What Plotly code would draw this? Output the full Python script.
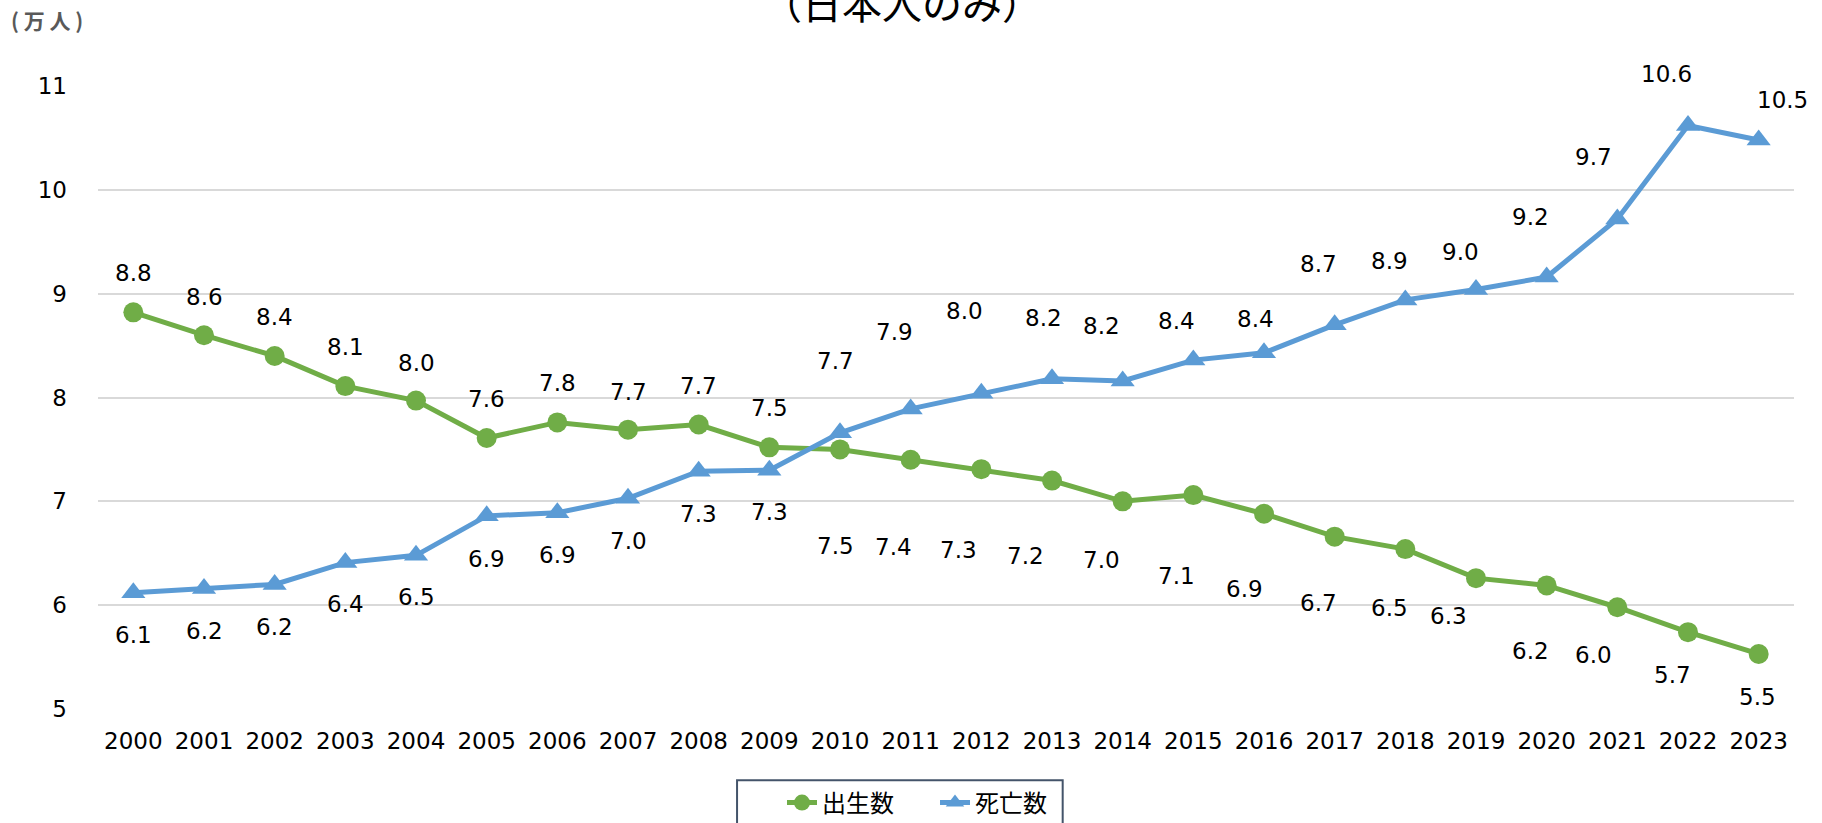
import plotly.graph_objects as go

# Annual births and deaths (unit: 10,000 people)
years = [str(y) for y in range(2000, 2024)]
births = [8.82, 8.60, 8.40, 8.11, 7.97, 7.61, 7.76, 7.69, 7.74, 7.52, 7.50, 7.40,
          7.31, 7.20, 7.00, 7.06, 6.88, 6.66, 6.54, 6.26, 6.19, 5.98, 5.74, 5.53]
deaths = [6.12, 6.16, 6.20, 6.41, 6.48, 6.86, 6.89, 7.03, 7.29, 7.30, 7.66, 7.89,
          8.04, 8.18, 8.16, 8.36, 8.43, 8.70, 8.94, 9.04, 9.16, 9.72, 10.62, 10.48]
y_ticks = [5, 6, 7, 8, 9, 10, 11]

# Pixel offsets of each value label from its marker (dy > 0 means below)
birth_dx = [0] * 10 + [-5, -17, -23, -27, -21, -17, -20, -16, -16, -28, -16, -24, -16, -1]
birth_dy = [-39, -38, -39, -39, -38, -39, -39, -38, -39, -39,
            97, 87, 81, 75, 59, 81, 75, 66, 59, 38, 66, 48, 43, 43]
death_dx = [0] * 10 + [-5, -16, -17, -9, -21, -17, -9, -16, -16, -16, -16, -24, -22, 24]
death_dy = [42, 42, 43, 41, 42, 43, 42, 43, 43, 42,
            -72, -77, -82, -61, -55, -39, -34, -61, -39, -38, -60, -62, -51, -40]

GREEN = "#70AD47"
BLUE = "#5B9BD5"
NUM_FONT = "DejaVu Sans, Verdana, Noto Sans CJK JP"
JP_FONT = "Noto Sans CJK JP, DejaVu Sans"

fig = go.Figure()
fig.add_trace(go.Scatter(
    x=years, y=births, name="出生数", mode="lines+markers",
    line=dict(color=GREEN, width=5),
    marker=dict(symbol="circle", size=20, color=GREEN),
))
fig.add_trace(go.Scatter(
    x=years, y=deaths, name="死亡数", mode="lines+markers",
    line=dict(color=BLUE, width=5),
    marker=dict(symbol="triangle-up", size=21, color=BLUE),
))

annotations = []
for vals, dxs, dys in ((births, birth_dx, birth_dy), (deaths, death_dx, death_dy)):
    for i, (v, dx, dy) in enumerate(zip(vals, dxs, dys)):
        # category axis: position by category index
        annotations.append(dict(
            x=i, y=v, xref="x", yref="y", text=f"{v:.1f}", showarrow=False,
            xshift=dx, yshift=-dy, xanchor="center", yanchor="middle",
            font=dict(family=NUM_FONT, size=23, color="#000000"),
        ))

# Subtitle line at the top edge and unit label
annotations.append(dict(
    x=0.474, y=1.1348, xref="paper", yref="paper", text="（日本人のみ）",
    showarrow=False, xanchor="center", yanchor="middle",
    font=dict(family=JP_FONT, size=40, color="#000000"),
))
annotations.append(dict(
    x=-0.0298, y=1.106, xref="paper", yref="paper", text="<b>( 万 人 )</b>",
    showarrow=False, xanchor="center", yanchor="middle",
    font=dict(family=JP_FONT, size=21, color="#595959"),
))

fig.update_layout(
    width=1822, height=823,
    margin=dict(l=98, r=28, t=86, b=114, autoexpand=False),
    paper_bgcolor="white", plot_bgcolor="white",
    font=dict(family=NUM_FONT, color="#000000"),
    showlegend=True,
    legend=dict(
        orientation="h", x=0.4033, xanchor="left", y=-0.1509, yanchor="middle",
        font=dict(family=JP_FONT, size=24, color="#000000"),
        bgcolor="rgba(0,0,0,0)", borderwidth=0, entrywidth=108, entrywidthmode="pixels",
    ),
    shapes=[dict(
        type="rect", xref="paper", yref="paper",
        x0=0.3768, x1=0.5688, y0=-0.1145, y1=-0.45,
        line=dict(color="#44546A", width=2), fillcolor="rgba(0,0,0,0)", layer="below",
    )],
    annotations=annotations,
    xaxis=dict(
        type="category", categoryorder="array", categoryarray=years,
        range=[-0.5, 23.5], showgrid=False, zeroline=False, showline=False,
        ticks="", ticklabelstandoff=16,
        tickfont=dict(family=NUM_FONT, size=23, color="#000000"),
    ),
    yaxis=dict(
        range=[5, 11], tickvals=y_ticks, showgrid=True, gridcolor="#D9D9D9", gridwidth=1.6,
        zeroline=False, showline=False, ticks="", ticklabelstandoff=30,
        tickfont=dict(family=NUM_FONT, size=23, color="#000000"),
    ),
)

fig.write_html("out.html")
